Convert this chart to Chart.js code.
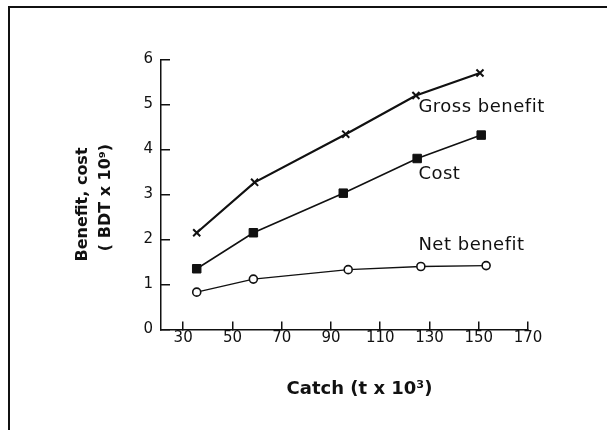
<!DOCTYPE html>
<html>
<head>
<meta charset="utf-8">
<script src="https://cdn.jsdelivr.net/npm/chart.js@4/dist/chart.umd.min.js"></script>
<style>
  html, body { margin: 0; padding: 0; background: #fff; }
  #wrap { position: relative; width: 607px; height: 430px; overflow: hidden; }
  #frame { position: absolute; left: 8px; top: 6px; right: -5px; bottom: -5px;
           border-left: 2px solid #111; border-top: 2px solid #111; pointer-events: none; }
  canvas { position: absolute; left: 0; top: 0; }
</style>
</head>
<body>
<div id="wrap">
<canvas id="c" width="607" height="430"></canvas>
<div id="frame"></div>
</div>
<script>
// ---- data ----
const xTicks = [30, 50, 70, 90, 110, 130, 150, 170];
const yTicks = [0, 1, 2, 3, 4, 5, 6];

const grossCatch = [35.5, 59, 96, 124.5, 150.5];
const grossValue = [2.15, 3.27, 4.34, 5.2, 5.7];

const costCatch = [35.5, 58.5, 95, 125, 151];
const costValue = [1.35, 2.15, 3.03, 3.8, 4.32];

const netCatch = [35.5, 58.5, 97, 126.5, 153];
const netValue = [0.83, 1.12, 1.33, 1.4, 1.42];

const seriesNames = ['Gross benefit', 'Cost', 'Net benefit'];
const xTitle = 'Catch (t x 10³)';
const yTitle = ['Benefit, cost', '( BDT x 10⁹)'];

const pts = (xs, ys) => xs.map((x, i) => ({ x: x, y: ys[i] }));

const FONT = "'DejaVu Sans', 'Liberation Sans', sans-serif";
const INK = '#111';

// curve labels (in data units) and axis titles
const textPlugin = {
  id: 'textLayer',
  afterDatasetsDraw(chart, args, opts) {
    const { ctx, scales: { x, y } } = chart;
    ctx.save();
    ctx.fillStyle = INK;
    ctx.textBaseline = 'middle';
    ctx.textAlign = 'left';
    ctx.font = '18px ' + FONT;
    if ('letterSpacing' in ctx) ctx.letterSpacing = '0.5px';
    opts.items.forEach(it => {
      ctx.fillText(it.text, x.getPixelForValue(it.x), y.getPixelForValue(it.y));
    });
    if ('letterSpacing' in ctx) ctx.letterSpacing = '0px';
    // x title
    ctx.textAlign = 'center';
    ctx.font = 'bold 18px ' + FONT;
    ctx.fillText(opts.xTitle, x.left + x.width / 2 + opts.xTitleShift, opts.xTitleY);
    // y title (rotated, two lines)
    ctx.font = 'bold 16px ' + FONT;
    opts.yTitle.forEach((line, i) => {
      const p = opts.yTitlePos[i];
      ctx.save();
      ctx.translate(p[0], y.top + y.height / 2 + p[1]);
      ctx.rotate(-Math.PI / 2);
      ctx.fillText(line, 0, 0);
      ctx.restore();
    });
    ctx.restore();
  }
};

new Chart(document.getElementById('c'), {
  type: 'line',
  data: {
    datasets: [
      {
        label: seriesNames[0],
        data: pts(grossCatch, grossValue),
        borderColor: INK, borderWidth: 2.2,
        pointStyle: 'crossRot', pointRadius: 5, pointBorderWidth: 2,
        pointBackgroundColor: INK, pointBorderColor: INK, tension: 0
      },
      {
        label: seriesNames[1],
        data: pts(costCatch, costValue),
        borderColor: INK, borderWidth: 1.6,
        pointStyle: 'rect', pointRadius: 6, pointBorderWidth: 1,
        pointBackgroundColor: INK, pointBorderColor: INK, tension: 0
      },
      {
        label: seriesNames[2],
        data: pts(netCatch, netValue),
        borderColor: INK, borderWidth: 1.3,
        pointStyle: 'circle', pointRadius: 4, pointBorderWidth: 1.6,
        pointBackgroundColor: '#fff', pointBorderColor: INK, tension: 0
      }
    ]
  },
  options: {
    responsive: false,
    animation: false,
    events: [],
    layout: { padding: { left: 0, right: 79, top: 59.5, bottom: 40 } },
    plugins: {
      legend: { display: false },
      tooltip: { enabled: false },
      textLayer: {
        items: [
          { text: seriesNames[0], x: 125.5, y: 4.93 },
          { text: seriesNames[1], x: 125.5, y: 3.44 },
          { text: seriesNames[2], x: 125.5, y: 1.88 }
        ],
        xTitle: xTitle, xTitleShift: 15, xTitleY: 389,
        yTitle: yTitle, yTitlePos: [[82.5, 10], [106, 3]]
      }
    },
    scales: {
      x: {
        type: 'linear', min: 21, max: 170,
        afterBuildTicks: s => { s.ticks = xTicks.map(v => ({ value: v })); },
        afterFit: s => { s.height = 60.5; },
        grid: { drawOnChartArea: false, drawTicks: true, tickLength: -8, color: INK, lineWidth: 1.5 },
        border: { display: true, color: INK, width: 1.5 },
        ticks: { color: INK, font: { family: FONT, size: 15 }, padding: 8, maxRotation: 0, autoSkip: false },
        title: { display: false }
      },
      y: {
        type: 'linear', min: 0, max: 6,
        afterBuildTicks: s => { s.ticks = yTicks.map(v => ({ value: v })); },
        afterFit: s => { s.width = 161; },
        grid: { drawOnChartArea: false, drawTicks: true, tickLength: -9, color: INK, lineWidth: 1.5 },
        border: { display: true, color: INK, width: 1.5 },
        ticks: { color: INK, font: { family: FONT, size: 15 }, padding: 17 },
        title: { display: false }
      }
    }
  },
  plugins: [textPlugin]
});
</script>
</body>
</html>
